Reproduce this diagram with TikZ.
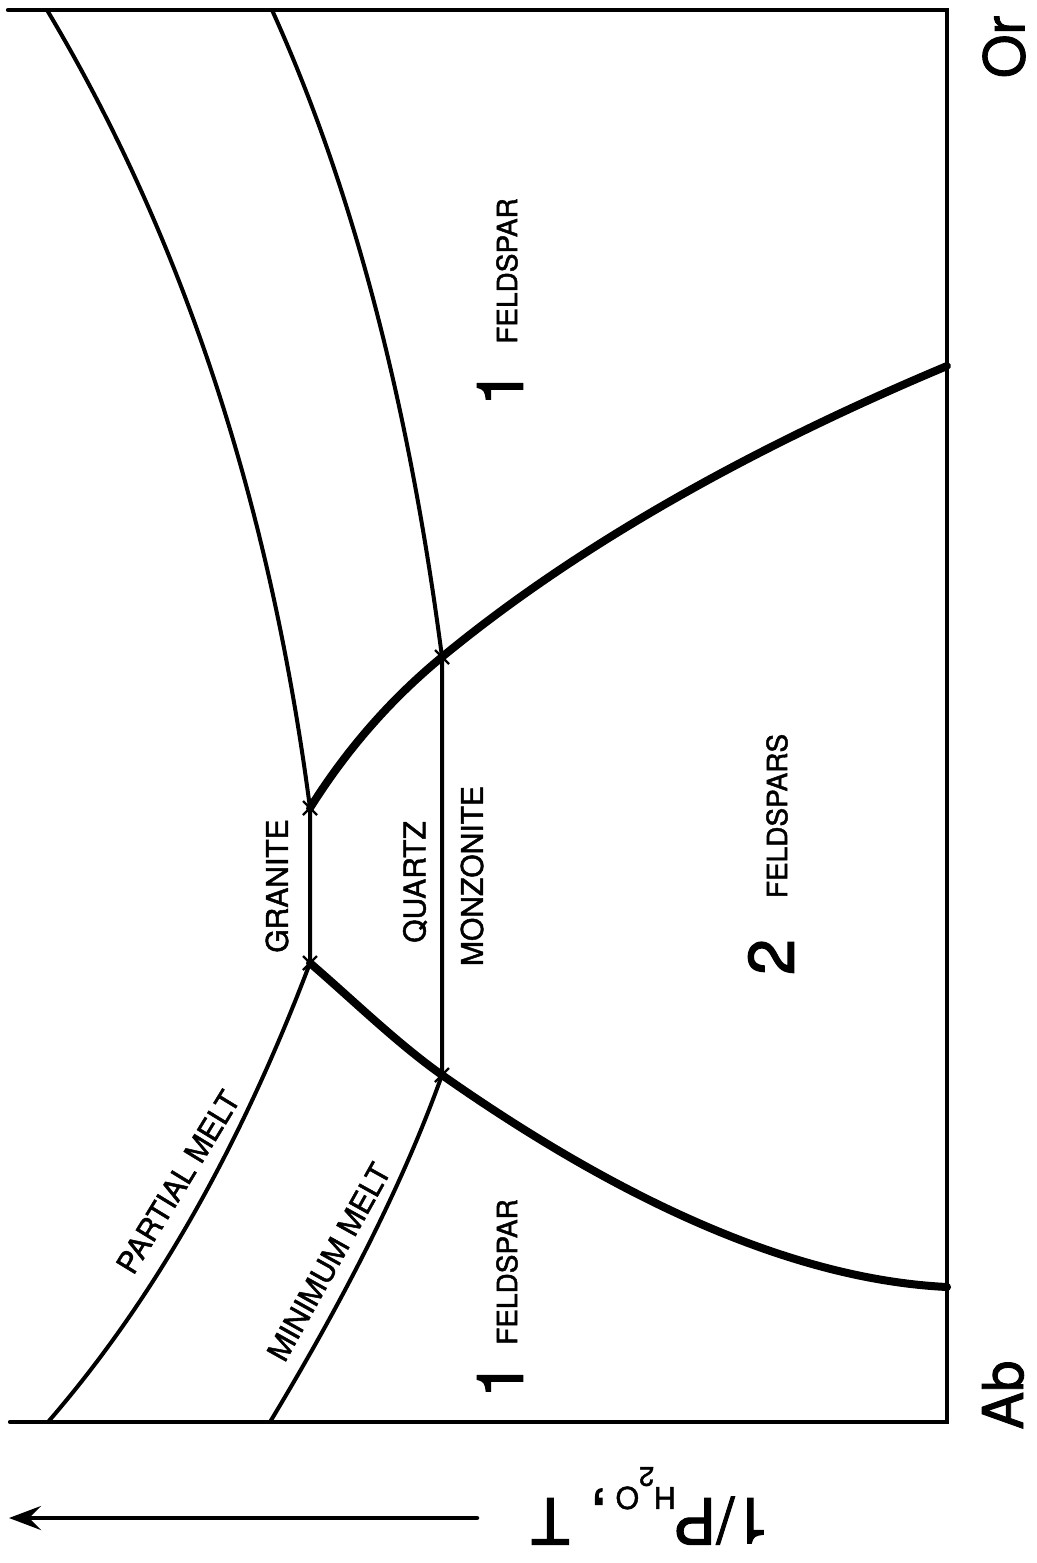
\documentclass[tikz,border=0pt]{standalone}
\usepackage{fontspec}
\setmainfont{TeX Gyre Heros}
\newfontfamily\medfont{TeX Gyre Heros}[FakeBold=1.6]
\newfontfamily\digfont{TeX Gyre Heros}[FakeBold=2.2]
\usetikzlibrary{arrows.meta,calc}
\begin{document}
\begin{tikzpicture}[x=1pt,y=-1pt,
  thinline/.style={line width=4pt, line cap=round, line join=round},
  thickline/.style={line width=8pt, line cap=round, line join=round},
  frameline/.style={line width=4.2pt, line cap=round, line join=miter},
  xmark/.style={line width=2.4pt},
  lab/.style={font=\medfont\fontsize{30}{32}\selectfont, inner sep=0pt, rotate=90},
  feld/.style={font=\medfont\fontsize{28}{30}\selectfont, inner sep=0pt, rotate=90},
  digit/.style={font=\digfont\fontsize{64}{66}\selectfont, inner sep=0pt, rotate=90},
  endlab/.style={font=\medfont\fontsize{56}{58}\selectfont, inner sep=0pt, rotate=90}]
\useasboundingbox (0,0) rectangle (1036,1563);
\fill[white] (0,0) rectangle (1036,1563);

% key points
\coordinate (G1) at (310,808);
\coordinate (G2) at (310,963);
\coordinate (Q1) at (442,657);
\coordinate (Q2) at (442,1075);
\coordinate (PMt) at (47,10);
\coordinate (PMb) at (48,1422);
\coordinate (MMt) at (272,10);
\coordinate (MMb) at (270,1422);
\coordinate (SVt) at (947,366);
\coordinate (SVb) at (947,1287);

% frame (left side open)
\draw[frameline] (8,10) -- (947,10) -- (947,1422) -- (10,1422);

% partial melt
\draw[thinline] (PMt) .. controls (182,236) and (270,502) .. (G1) -- (G2)
  .. controls (240,1148) and (153,1301) .. (PMb);

% minimum melt
\draw[thinline] (MMt) .. controls (353,189) and (409,404) .. (Q1) -- (Q2)
  .. controls (406,1176) and (349,1291) .. (MMb);

% solvus
\draw[thickline] (SVt) .. controls (742,452) and (573,549) .. (Q1)
  .. controls (391,699) and (347,749) .. (G1);
\draw[thickline] (G2) .. controls (354,1001) and (398,1044) .. (Q2)
  .. controls (633,1209) and (802,1280) .. (SVb);

% crosses
\foreach \p in {G1,G2,Q1,Q2}{
  \draw[xmark] ($(\p)+(-7,-7)$) -- ($(\p)+(7,7)$);
  \draw[xmark] ($(\p)+(-7,7)$) -- ($(\p)+(7,-7)$);
}

% labels
\node[lab] (granite) at (277,886) {GRANITE};
\node[lab] (quartz) at (415,882) {QUARTZ};
\node[lab] (monz) at (472,876) {MONZONITE};
\node[digit] (one1) at (500,388) {1};
\node[feld] (f1) at (507,271) {FELDSPAR};
\node[digit] (one2) at (500,1380) {1};
\node[feld] (f2) at (507,1272) {FELDSPAR};
\node[digit] (two) at (771,957) {2};
\node[feld] (f3) at (777,816) {FELDSPARS};
\node[lab, rotate=-31.4] (pm) at (178,1182) {PARTIAL MELT};
\node[lab, rotate=-29.1] (mm) at (329,1262) {MINIMUM MELT};
\node[endlab] (or) at (1004,47) {Or};
\node[endlab] (ab) at (1003,1395) {Ab};

% axis arrow and label
\coordinate (arrS) at (477,1518);
\coordinate (arrE) at (9,1518);
\draw[line width=4.5pt, line cap=round, -{Stealth[length=32pt, width=24pt, inset=12pt]}] (arrS) -- (arrE);
\node[inner sep=0pt, rotate=180, anchor=base west, font=\medfont\fontsize{64}{66}\selectfont] (axl) at (770,1498)
  {1/P\kern-2pt\raisebox{-11pt}{\fontsize{30}{32}\selectfont H\raisebox{-20pt}{\fontsize{27}{28}\selectfont 2}O}\kern8pt,\kern20pt T};
\end{tikzpicture}
\end{document}
